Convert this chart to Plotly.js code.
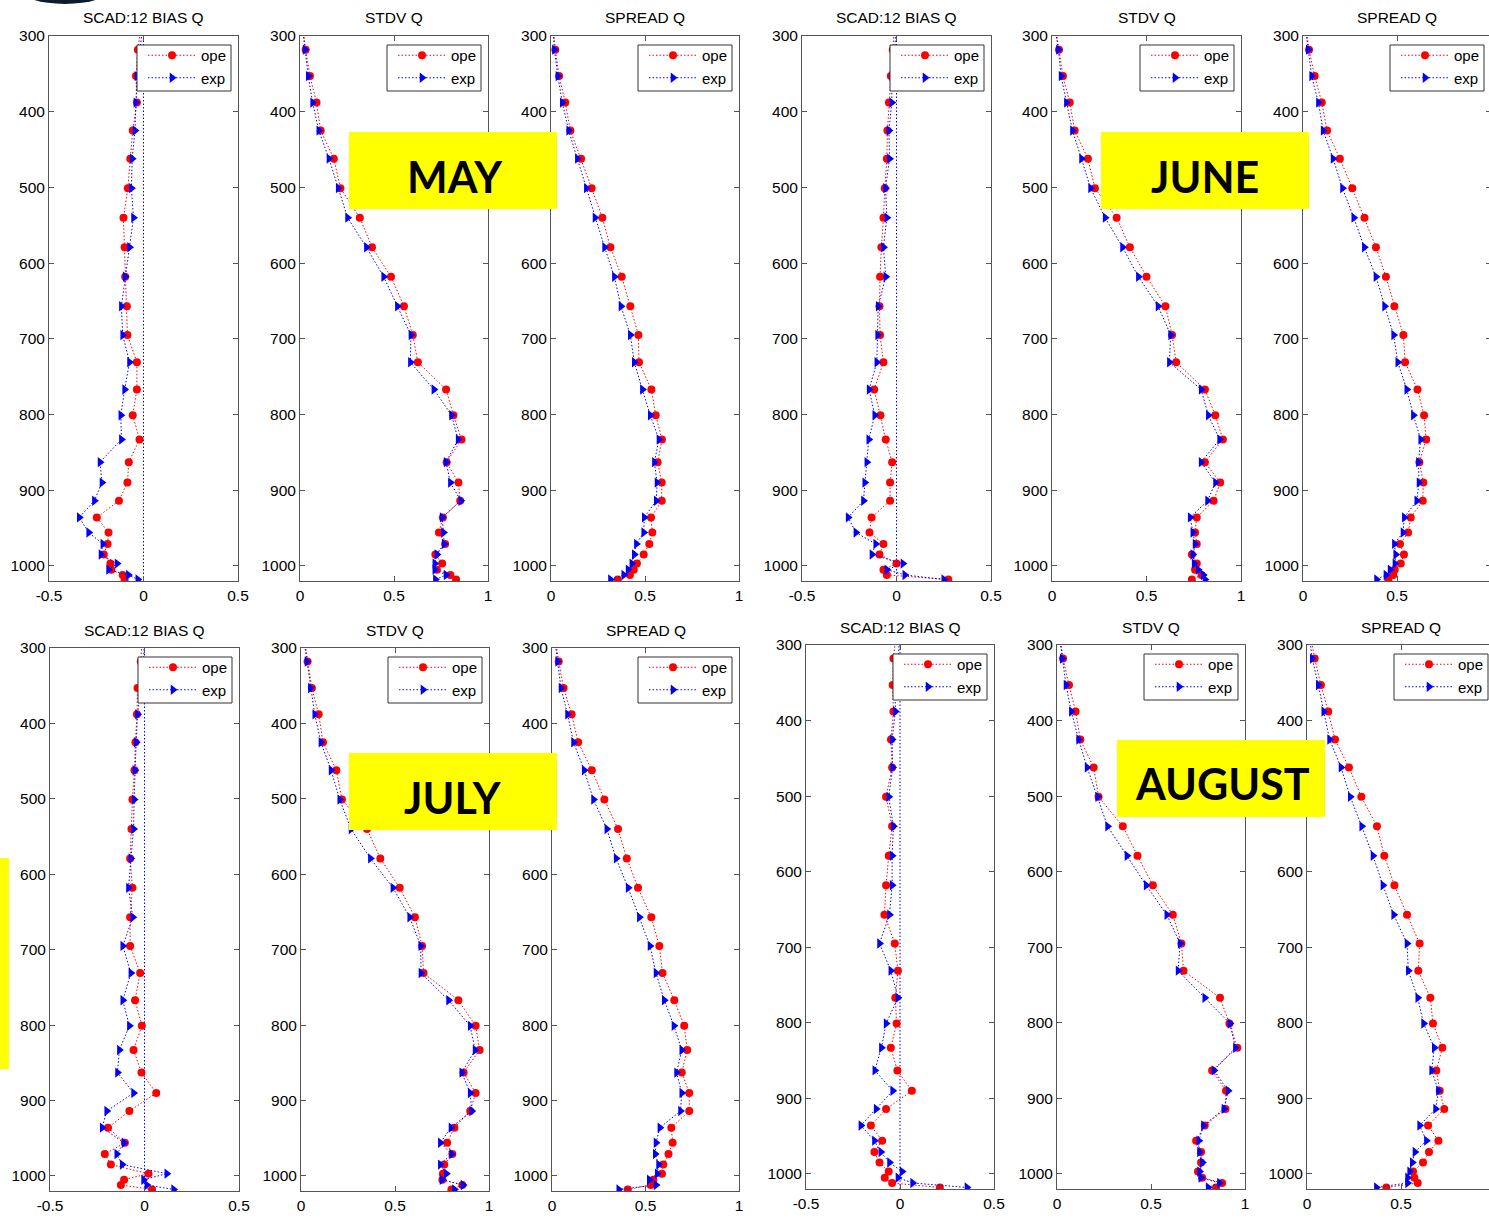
<!DOCTYPE html>
<html>
<head>
<meta charset="utf-8">
<script src="https://cdn.plot.ly/plotly-3.0.1.min.js"></script>
<style>
  html, body { margin: 0; padding: 0; overflow: hidden; background: #fff; }
  #chart { width: 1500px; height: 1218px; }
</style>
</head>
<body>
<div id="chart"></div>
<script>
// Pressure levels (hPa) of the verification profiles; the first one sits above the plotted range
const levels = [283, 318, 353, 388, 425, 462, 501, 540, 579, 618, 657, 695, 731, 767, 801, 833, 863, 890, 914, 936, 956, 971, 985, 997, 1005, 1012, 1018];

// MAY
const mayBiasOpe = [-0.01, -0.03, -0.04, -0.035, -0.057, -0.07, -0.083, -0.106, -0.10, -0.097, -0.088, -0.085, -0.035, -0.035, -0.057, -0.021, -0.078, -0.085, -0.13, -0.247, -0.185, -0.19, -0.21, -0.175, -0.17, -0.11, -0.10];
const mayBiasExp = [0.0, -0.02, -0.035, -0.04, -0.045, -0.06, -0.064, -0.053, -0.074, -0.097, -0.117, -0.11, -0.074, -0.10, -0.12, -0.117, -0.23, -0.22, -0.26, -0.34, -0.29, -0.215, -0.225, -0.14, -0.185, -0.08, -0.03];
const mayStdvOpe = [0.012, 0.03, 0.053, 0.088, 0.11, 0.18, 0.215, 0.318, 0.383, 0.484, 0.553, 0.60, 0.627, 0.777, 0.816, 0.859, 0.78, 0.843, 0.852, 0.76, 0.739, 0.772, 0.72, 0.756, 0.728, 0.80, 0.83];
const mayStdvExp = [0.01, 0.027, 0.044, 0.067, 0.10, 0.154, 0.203, 0.253, 0.353, 0.445, 0.518, 0.59, 0.587, 0.712, 0.806, 0.841, 0.777, 0.80, 0.855, 0.756, 0.763, 0.767, 0.728, 0.717, 0.717, 0.777, 0.72];
const maySprdOpe = [0.01, 0.023, 0.043, 0.076, 0.103, 0.16, 0.216, 0.273, 0.316, 0.376, 0.422, 0.465, 0.468, 0.534, 0.557, 0.59, 0.567, 0.589, 0.589, 0.532, 0.539, 0.523, 0.493, 0.457, 0.44, 0.42, 0.355];
const maySprdExp = [0.008, 0.018, 0.037, 0.06, 0.094, 0.14, 0.188, 0.234, 0.285, 0.337, 0.372, 0.422, 0.443, 0.486, 0.528, 0.574, 0.55, 0.564, 0.56, 0.496, 0.493, 0.454, 0.443, 0.43, 0.41, 0.387, 0.316];

// JUNE
const junBiasOpe = [-0.01, -0.02, -0.03, -0.04, -0.048, -0.051, -0.062, -0.069, -0.08, -0.087, -0.09, -0.087, -0.069, -0.118, -0.085, -0.057, -0.023, -0.034, -0.034, -0.132, -0.143, -0.069, -0.09, 0.0, -0.069, -0.051, 0.274];
const junBiasExp = [0.0, -0.01, -0.025, -0.025, -0.04, -0.037, -0.058, -0.051, -0.069, -0.057, -0.097, -0.10, -0.104, -0.145, -0.115, -0.147, -0.157, -0.168, -0.175, -0.256, -0.215, -0.11, -0.13, 0.034, -0.051, 0.044, 0.25];
const junStdvOpe = [0.015, 0.037, 0.058, 0.094, 0.12, 0.19, 0.227, 0.342, 0.412, 0.50, 0.60, 0.635, 0.657, 0.809, 0.864, 0.904, 0.809, 0.89, 0.855, 0.766, 0.757, 0.766, 0.74, 0.766, 0.757, 0.791, 0.74];
const junStdvExp = [0.012, 0.034, 0.048, 0.076, 0.108, 0.156, 0.204, 0.281, 0.373, 0.457, 0.561, 0.628, 0.621, 0.789, 0.827, 0.887, 0.789, 0.865, 0.823, 0.731, 0.745, 0.757, 0.745, 0.752, 0.773, 0.80, 0.809];
const junSprdOpe = [0.012, 0.032, 0.062, 0.10, 0.128, 0.196, 0.262, 0.327, 0.388, 0.441, 0.486, 0.534, 0.543, 0.609, 0.644, 0.655, 0.619, 0.64, 0.637, 0.573, 0.559, 0.516, 0.537, 0.52, 0.488, 0.48, 0.454];
const junSprdExp = [0.01, 0.028, 0.046, 0.082, 0.107, 0.16, 0.21, 0.27, 0.326, 0.388, 0.434, 0.482, 0.504, 0.552, 0.587, 0.626, 0.614, 0.617, 0.605, 0.539, 0.532, 0.486, 0.493, 0.489, 0.463, 0.441, 0.391];

// JULY
const julBiasOpe = [-0.01, -0.02, -0.037, -0.04, -0.048, -0.053, -0.064, -0.069, -0.076, -0.064, -0.076, -0.076, -0.023, -0.05, -0.014, -0.058, -0.016, 0.062, -0.08, -0.193, -0.104, -0.21, -0.178, 0.021, -0.108, -0.125, 0.04];
const julBiasExp = [0.0, -0.005, -0.02, -0.037, -0.044, -0.051, -0.055, -0.058, -0.072, -0.085, -0.062, -0.115, -0.072, -0.115, -0.08, -0.133, -0.143, -0.058, -0.20, -0.224, -0.108, -0.147, -0.118, 0.118, -0.005, 0.012, 0.154];
const julStdvOpe = [0.015, 0.035, 0.058, 0.094, 0.117, 0.188, 0.218, 0.351, 0.422, 0.525, 0.606, 0.644, 0.652, 0.837, 0.929, 0.95, 0.865, 0.929, 0.90, 0.816, 0.777, 0.805, 0.762, 0.755, 0.752, 0.858, 0.80];
const julStdvExp = [0.012, 0.032, 0.05, 0.073, 0.106, 0.16, 0.206, 0.266, 0.369, 0.489, 0.578, 0.637, 0.638, 0.785, 0.90, 0.926, 0.855, 0.90, 0.908, 0.798, 0.741, 0.801, 0.741, 0.773, 0.75, 0.862, 0.816];
const julSprdOpe = [0.015, 0.036, 0.062, 0.105, 0.14, 0.213, 0.28, 0.353, 0.40, 0.46, 0.531, 0.574, 0.591, 0.654, 0.707, 0.723, 0.694, 0.734, 0.734, 0.638, 0.645, 0.623, 0.595, 0.588, 0.542, 0.528, 0.405];
const julSprdExp = [0.012, 0.03, 0.048, 0.083, 0.115, 0.172, 0.222, 0.293, 0.343, 0.407, 0.467, 0.524, 0.556, 0.60, 0.652, 0.694, 0.666, 0.694, 0.687, 0.577, 0.556, 0.552, 0.57, 0.563, 0.52, 0.556, 0.357];

// AUGUST
const augBiasOpe = [-0.02, -0.035, -0.039, -0.035, -0.048, -0.042, -0.074, -0.042, -0.06, -0.074, -0.083, -0.028, -0.011, -0.025, -0.018, -0.049, -0.014, 0.063, -0.074, -0.155, -0.095, -0.136, -0.109, -0.06, -0.081, -0.042, 0.212];
const augBiasExp = [0.0, -0.01, -0.025, -0.025, -0.042, -0.039, -0.06, -0.035, -0.042, -0.042, -0.056, -0.109, -0.049, -0.011, -0.074, -0.099, -0.134, -0.039, -0.127, -0.208, -0.136, -0.102, -0.056, 0.011, -0.011, 0.067, 0.356];
const augStdvOpe = [0.012, 0.032, 0.064, 0.099, 0.124, 0.195, 0.221, 0.35, 0.428, 0.51, 0.616, 0.662, 0.673, 0.867, 0.917, 0.959, 0.825, 0.899, 0.896, 0.786, 0.74, 0.766, 0.766, 0.75, 0.772, 0.878, 0.846];
const augStdvExp = [0.01, 0.028, 0.048, 0.076, 0.115, 0.16, 0.216, 0.269, 0.372, 0.474, 0.584, 0.655, 0.644, 0.786, 0.92, 0.949, 0.835, 0.91, 0.888, 0.779, 0.754, 0.758, 0.773, 0.758, 0.765, 0.864, 0.804];
const augSprdOpe = [0.015, 0.041, 0.074, 0.113, 0.149, 0.223, 0.289, 0.372, 0.411, 0.465, 0.532, 0.599, 0.592, 0.656, 0.67, 0.72, 0.688, 0.706, 0.73, 0.644, 0.699, 0.649, 0.617, 0.564, 0.571, 0.589, 0.422];
const augSprdExp = [0.01, 0.028, 0.06, 0.089, 0.12, 0.181, 0.23, 0.291, 0.351, 0.404, 0.461, 0.532, 0.539, 0.589, 0.62, 0.677, 0.663, 0.699, 0.684, 0.599, 0.635, 0.574, 0.56, 0.546, 0.535, 0.535, 0.369];

const seriesNames = ['ope', 'exp'];
const panelTitles = ['SCAD:12 BIAS Q', 'STDV Q', 'SPREAD Q'];
const monthNames = ['MAY', 'JUNE', 'JULY', 'AUGUST'];
const biasTicks = [-0.5, 0, 0.5];
const scoreTicks = [0, 0.5, 1];
const pressureTicks = [300, 400, 500, 600, 700, 800, 900, 1000];

// ---- page geometry (pixels) ----
const W = 1500, H = 1218;
const FONT = 'Liberation Sans, Arial, sans-serif';
const FS = 15.5;
const AXIS_COLOR = '#555555';

// [left, right, top, bottom] of every axes box, row by row
const boxes = [
  [49, 238, 36, 581], [300, 488, 36, 581], [551, 739, 36, 581],
  [802, 991, 36, 581], [1052, 1241, 36, 581], [1303, 1491, 36, 581],
  [50, 239, 648, 1191], [301, 489, 648, 1191], [552, 739, 648, 1191],
  [806, 994, 645, 1189], [1057, 1245, 645, 1189], [1307, 1495, 645, 1189]
];

const panelData = [
  [mayBiasOpe, mayBiasExp], [mayStdvOpe, mayStdvExp], [maySprdOpe, maySprdExp],
  [junBiasOpe, junBiasExp], [junStdvOpe, junStdvExp], [junSprdOpe, junSprdExp],
  [julBiasOpe, julBiasExp], [julStdvOpe, julStdvExp], [julSprdOpe, julSprdExp],
  [augBiasOpe, augBiasExp], [augStdvOpe, augStdvExp], [augSprdOpe, augSprdExp]
];

const px = x => x / W;
const py = y => 1 - y / H;

const traces = [];
const shapes = [];
const annotations = [];
const layout = {
  width: W, height: H,
  margin: {l: 0, r: 0, t: 0, b: 0},
  paper_bgcolor: '#ffffff',
  plot_bgcolor: '#ffffff',
  font: {family: FONT, size: FS, color: '#000000'},
  showlegend: true
};

panelData.forEach((pair, i) => {
  const n = i + 1;
  const xa = n === 1 ? 'x' : 'x' + n;
  const ya = n === 1 ? 'y' : 'y' + n;
  const lg = n === 1 ? 'legend' : 'legend' + n;
  const [l, r, t, b] = boxes[i];
  const isBias = (i % 3) === 0;
  const isSpread = (i % 3) === 2;          // the month box hides its 500 label
  const atRightEdge = (i % 6) === 5;       // the "1" label falls off the page

  const axisStyle = {
    showline: true, mirror: 'ticks', linecolor: AXIS_COLOR, linewidth: 1,
    ticks: 'inside', ticklen: 5, tickcolor: AXIS_COLOR, tickwidth: 1,
    showgrid: false, zeroline: false,
    tickfont: {family: FONT, size: FS, color: '#000000'}
  };

  const xt = isBias ? biasTicks : scoreTicks;
  layout['xaxis' + (n === 1 ? '' : n)] = Object.assign({}, axisStyle, {
    domain: [px(l), px(r)], anchor: ya,
    range: isBias ? [-0.5, 0.5] : [0, 1],
    tickvals: xt,
    ticktext: xt.map(v => (atRightEdge && v === 1) ? '' : String(v))
  });
  layout['yaxis' + (n === 1 ? '' : n)] = Object.assign({}, axisStyle, {
    domain: [py(b), py(t)], anchor: xa,
    range: [1020, 300],
    tickvals: pressureTicks,
    ticktext: pressureTicks.map(v => (isSpread && v === 500) ? '' : String(v))
  });

  // legend frame, drawn as a white box; the legend entries sit on top of it
  shapes.push({
    type: 'rect', xref: 'paper', yref: 'paper', layer: 'above',
    x0: px(r - 101), x1: px(r - 7), y0: py(t + 55), y1: py(t + 9),
    fillcolor: '#ffffff', line: {color: '#333333', width: 1}
  });
  layout[lg] = {
    x: px(r - 6), y: py(t + 3), xanchor: 'right', yanchor: 'top',
    bgcolor: 'rgba(0,0,0,0)', borderwidth: 0,
    font: {family: FONT, size: 15, color: '#000000'},
    itemwidth: 48, tracegroupgap: 0, itemclick: false, itemdoubleclick: false
  };

  traces.push({
    type: 'scatter', mode: 'lines+markers', name: seriesNames[0],
    x: pair[0], y: levels, xaxis: xa, yaxis: ya, legend: lg,
    line: {color: '#ff0000', width: 1, dash: '1.5px,2px'},
    marker: {symbol: 'circle', size: 8, color: '#ff0000'}
  });
  traces.push({
    type: 'scatter', mode: 'lines+markers', name: seriesNames[1],
    x: pair[1], y: levels, xaxis: xa, yaxis: ya, legend: lg,
    line: {color: '#0000ff', width: 1, dash: '1.5px,2px'},
    marker: {symbol: 'triangle-right', size: 9, color: '#0000ff'}
  });

  if (isBias) {
    shapes.push({
      type: 'line', xref: xa, yref: ya + ' domain',
      x0: 0, x1: 0, y0: 0, y1: 1, layer: 'below',
      line: {color: '#0000ff', width: 1, dash: '1.5px,2px'}
    });
  }

  const titleY = i < 6 ? 18 : (i < 9 ? 630 : 627);
  annotations.push({
    xref: 'paper', yref: 'paper', x: px((l + r) / 2), y: py(titleY),
    xanchor: 'center', yanchor: 'middle', showarrow: false,
    text: panelTitles[i % 3],
    font: {family: FONT, size: FS, color: '#000000'}
  });
});

// month labels: yellow box [left, right, top, bottom] and text centre [x, y]
const monthBoxes = [[349, 557, 132, 209], [1101, 1309, 132, 209], [349, 557, 753, 830], [1117, 1325, 740, 817]];
const monthText = [[455, 176], [1205, 176], [453, 797], [1222, 783]];
monthNames.forEach((m, k) => {
  const [l, r, t, b] = monthBoxes[k];
  shapes.push({
    type: 'rect', xref: 'paper', yref: 'paper', layer: 'above',
    x0: px(l), x1: px(r), y0: py(b), y1: py(t),
    fillcolor: '#ffff00', line: {width: 0}
  });
  const [cx, cy] = monthText[k];
  annotations.push({
    xref: 'paper', yref: 'paper', x: px(cx), y: py(cy),
    xanchor: 'center', yanchor: 'middle', showarrow: false,
    text: '<b>' + m + '</b>',
    font: {family: 'Lato, Open Sans, sans-serif', size: 43, color: '#000000', weight: 700}
  });
});

// narrow yellow strip on the left edge and the dark blot on the top edge
shapes.push({
  type: 'rect', xref: 'paper', yref: 'paper', layer: 'above',
  x0: px(0), x1: px(9), y0: py(1069), y1: py(858),
  fillcolor: '#ffff00', line: {width: 0}
});
shapes.push({
  type: 'circle', xref: 'paper', yref: 'paper', layer: 'above',
  x0: px(20), x1: px(110), y0: py(4), y1: py(-26),
  fillcolor: '#0d1c2a', line: {width: 0}
});

layout.shapes = shapes;
layout.annotations = annotations;

Plotly.newPlot('chart', traces, layout, {staticPlot: true, displayModeBar: false});
</script>
</body>
</html>
